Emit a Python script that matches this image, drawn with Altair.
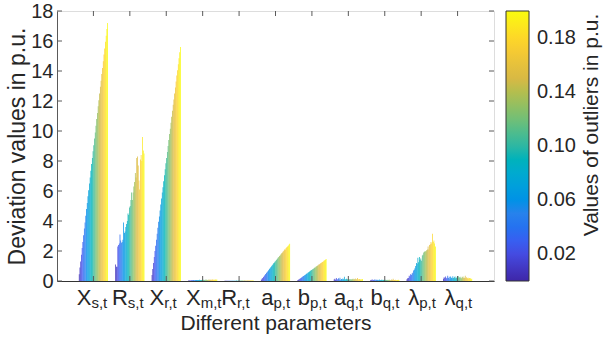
import altair as alt
import pandas as pd

params = ["Xs,t", "Rs,t", "Xr,t", "Xm,t", "Rr,t", "ap,t", "bp,t", "aq,t", "bq,t", "λp,t", "λq,t"]
label_main = ["X", "R", "X", "X", "R", "a", "b", "a", "b", "λ", "λ"]
label_sub = ["s,t", "s,t", "r,t", "m,t", "r,t", "p,t", "p,t", "q,t", "q,t", "p,t", "q,t"]

outliers = [0.005, 0.010, 0.015, 0.020, 0.025, 0.030, 0.035, 0.040, 0.045, 0.050,
            0.055, 0.060, 0.065, 0.070, 0.075, 0.080, 0.085, 0.090, 0.095, 0.100,
            0.105, 0.110, 0.115, 0.120, 0.125, 0.130, 0.135, 0.140, 0.145, 0.150,
            0.155, 0.160, 0.165, 0.170, 0.175, 0.180, 0.185, 0.190, 0.195, 0.200]

xs_t = [0.45, 0.9, 1.3, 1.75, 2.2, 2.6, 3.05, 3.5, 3.9, 4.35, 4.8, 5.2, 5.65, 6.05, 6.5, 6.9, 7.35, 7.8, 8.2, 8.65,
        9.05, 9.5, 9.9, 10.35, 10.8, 11.2, 11.65, 12.05, 12.5, 12.95, 13.35, 13.8, 14.2, 14.65, 15.1, 15.5, 15.95, 16.35, 16.8, 17.2]
rs_t = [1.1, 0.95, 0.95, 2.3, 2.4, 2.5, 3.1, 2.7, 2.55, 2.6, 2.75, 3.9, 3.2, 3.3, 3.6, 3.8, 4.0, 4.5, 4.4, 4.9,
        5.0, 5.4, 5.9, 5.4, 5.9, 6.3, 6.6, 7.2, 6.9, 8.2, 8.3, 7.7, 6.7, 6.1, 8.1, 8.4, 8.0, 9.6, 8.7, 8.5]
xr_t = [0.4, 0.8, 1.2, 1.6, 2.0, 2.35, 2.75, 3.15, 3.55, 3.95, 4.3, 4.7, 5.1, 5.5, 5.9, 6.25, 6.65, 7.05, 7.45, 7.85,
        8.2, 8.6, 9.0, 9.4, 9.8, 10.15, 10.55, 10.95, 11.35, 11.75, 12.1, 12.5, 12.9, 13.3, 13.7, 14.05, 14.45, 14.85, 15.25, 15.6]
xm_t = [0.03, 0.04, 0.05, 0.04, 0.05, 0.06, 0.05, 0.06, 0.05, 0.06, 0.07, 0.06, 0.07, 0.06, 0.07, 0.08, 0.07, 0.06, 0.07, 0.08,
        0.07, 0.08, 0.07, 0.08, 0.09, 0.08, 0.07, 0.08, 0.09, 0.08, 0.09, 0.08, 0.09, 0.1, 0.09, 0.08, 0.09, 0.1, 0.09, 0.1]
rr_t = [0.01, 0.01, 0.02, 0.01, 0.02, 0.01, 0.02, 0.02, 0.01, 0.02, 0.02, 0.02, 0.01, 0.02, 0.02, 0.02, 0.03, 0.02, 0.02, 0.03,
        0.02, 0.03, 0.02, 0.03, 0.03, 0.02, 0.03, 0.03, 0.03, 0.02, 0.03, 0.03, 0.03, 0.04, 0.03, 0.03, 0.04, 0.03, 0.04, 0.04]
ap_t = [0.08, 0.15, 0.2, 0.27, 0.33, 0.4, 0.47, 0.53, 0.6, 0.65, 0.72, 0.8, 0.85, 0.92, 0.98, 1.05, 1.1, 1.18, 1.23, 1.3,
        1.35, 1.42, 1.48, 1.55, 1.6, 1.66, 1.72, 1.78, 1.85, 1.9, 1.97, 2.02, 2.1, 2.1, 2.2, 2.25, 2.3, 2.35, 2.42, 2.48]
bp_t = [0.05, 0.08, 0.12, 0.15, 0.19, 0.22, 0.26, 0.3, 0.33, 0.37, 0.4, 0.44, 0.48, 0.5, 0.55, 0.58, 0.62, 0.66, 0.7, 0.73,
        0.77, 0.8, 0.84, 0.88, 0.9, 0.95, 0.98, 1.02, 1.05, 1.1, 1.12, 1.16, 1.2, 1.24, 1.27, 1.3, 1.35, 1.38, 1.42, 1.46]
aq_t = [0.1, 0.15, 0.08, 0.2, 0.1, 0.12, 0.18, 0.1, 0.22, 0.08, 0.14, 0.1, 0.16, 0.12, 0.28, 0.1, 0.12, 0.15, 0.1, 0.13,
        0.1, 0.12, 0.08, 0.14, 0.1, 0.12, 0.15, 0.1, 0.12, 0.16, 0.1, 0.12, 0.2, 0.1, 0.12, 0.14, 0.1, 0.12, 0.1, 0.13]
bq_t = [0.05, 0.08, 0.04, 0.1, 0.06, 0.07, 0.12, 0.05, 0.09, 0.06, 0.08, 0.05, 0.1, 0.07, 0.06, 0.09, 0.05, 0.08, 0.06, 0.07,
        0.05, 0.08, 0.06, 0.07, 0.09, 0.06, 0.08, 0.05, 0.07, 0.1, 0.06, 0.15, 0.07, 0.06, 0.08, 0.05, 0.07, 0.06, 0.08, 0.06]
lp_t = [0.12, 0.18, 0.2, 0.35, 0.3, 0.45, 0.4, 0.5, 0.55, 0.7, 0.75, 0.85, 1.0, 1.2, 1.15, 1.55, 1.25, 1.6, 1.4, 1.5,
        1.35, 1.7, 1.75, 1.9, 1.95, 2.0, 1.95, 2.05, 2.1, 2.3, 2.1, 2.4, 2.45, 2.6, 2.5, 3.15, 2.6, 2.7, 2.5, 2.3]
lq_t = [0.15, 0.25, 0.2, 0.3, 0.18, 0.22, 0.35, 0.2, 0.28, 0.15, 0.3, 0.22, 0.18, 0.32, 0.2, 0.25, 0.3, 0.18, 0.22, 0.28,
        0.2, 0.32, 0.25, 0.2, 0.28, 0.18, 0.25, 0.3, 0.2, 0.22, 0.35, 0.2, 0.25, 0.18, 0.22, 0.15, 0.2, 0.18, 0.12, 0.15]

series = [xs_t, rs_t, xr_t, xm_t, rr_t, ap_t, bp_t, aq_t, bq_t, lp_t, lq_t]

rows = []
for p, vals in zip(params, series):
    for o, v in zip(outliers, vals):
        rows.append({"param": p, "outlier": o, "value": v})
df = pd.DataFrame(rows)

lab_df = pd.DataFrame({"param": params, "main": label_main, "sub": label_sub})
ytick_vals = [0, 2, 4, 6, 8, 10, 12, 14, 16, 18]
ytick_df = pd.DataFrame({"t": ytick_vals})
cbar_ticks = [0.02, 0.06, 0.10, 0.14, 0.18]

parula_dom = [0.0, 0.025, 0.05, 0.075, 0.1, 0.125, 0.15, 0.175, 0.2]
parula_rng = ["#3e26a8", "#4354f0", "#2782ec", "#0aa5d6", "#2db7a3", "#84bf6c", "#d8b944", "#fcce2e", "#f9fb0e"]

W, H = 437, 270
FONT = "Liberation Sans"
TXT = "#262626"
FRAME = "#5a5a5a"

xscale = alt.Scale(domain=params, paddingInner=0.2, paddingOuter=0.6)
yscale = alt.Scale(domain=[0, 18], nice=False)
cscale = alt.Scale(domain=parula_dom, range=parula_rng)

x_axis = alt.Axis(labels=False, ticks=False, title="Different parameters",
                  titleFontSize=21, titleFont=FONT, titleFontWeight="normal",
                  titleColor=TXT, titlePadding=31, domainColor="#333333")
y_axis = alt.Axis(values=ytick_vals, ticks=False, grid=False, labelFontSize=20,
                  labelFont=FONT, labelColor=TXT, labelPadding=4, labelOverlap=False,
                  labelFlush=False,
                  title="Deviation values in p.u.", titleFontSize=23, titleFont=FONT,
                  titleFontWeight="normal", titleColor=TXT, titlePadding=1,
                  domainColor=FRAME)


def X():
    return alt.X("param:N", sort=params, scale=xscale, axis=x_axis)


bars = alt.Chart(df).mark_bar().encode(
    x=X(),
    xOffset=alt.XOffset("outlier:O", scale=alt.Scale(paddingInner=0, paddingOuter=0)),
    y=alt.Y("value:Q", scale=yscale, axis=y_axis),
    color=alt.Color("outlier:Q", scale=cscale, title=None,
                    legend=alt.Legend(type="gradient", orient="none", legendX=449, legendY=0,
                                      direction="vertical",
                                      gradientLength=H, gradientThickness=23,
                                      gradientStrokeColor="#333333", gradientStrokeWidth=1,
                                      values=cbar_ticks, format=".2f",
                                      labelFontSize=20, labelFont=FONT, labelColor=TXT,
                                      labelOffset=8, padding=0, labelOverlap=False)),
)

left_ticks = alt.Chart(ytick_df).mark_rule(color=FRAME, strokeWidth=1).encode(
    y=alt.Y("t:Q", scale=yscale, axis=y_axis), x=alt.value(0), x2=alt.value(5))
right_ticks = alt.Chart(ytick_df).mark_rule(color=FRAME, strokeWidth=1).encode(
    y=alt.Y("t:Q", scale=yscale, axis=y_axis), x=alt.value(W - 5), x2=alt.value(W))
top_ticks = alt.Chart(lab_df).mark_rule(color=FRAME, strokeWidth=1).encode(
    x=X(), y=alt.value(0), y2=alt.value(5))
bot_ticks = alt.Chart(lab_df).mark_rule(color=FRAME, strokeWidth=1).encode(
    x=X(), y=alt.value(H - 5), y2=alt.value(H))

main_lab = alt.Chart(lab_df).mark_text(align="right", baseline="alphabetic", fontSize=22,
                                       font=FONT, color=TXT, dx=-2).encode(
    x=X(), y=alt.value(H + 24), text="main:N")
sub_lab = alt.Chart(lab_df).mark_text(align="left", baseline="alphabetic", fontSize=15,
                                      font=FONT, color=TXT, dx=-2).encode(
    x=X(), y=alt.value(H + 27), text="sub:N")

cb_title = alt.Chart(lab_df.head(1)).mark_text(angle=270, align="center", baseline="middle",
                                               fontSize=21, font=FONT, color=TXT).encode(
    x=alt.value(535), y=alt.value(114), text=alt.value("Values of outliers in p.u."))

chart = alt.layer(bars, left_ticks, right_ticks, top_ticks, bot_ticks, main_lab, sub_lab, cb_title).properties(
    width=W, height=H,
    autosize=alt.AutoSizeParams(type="none"),
    padding={"left": 57, "top": 11, "right": 109, "bottom": 60},
).configure_view(stroke=FRAME, strokeWidth=1).configure(background="white")

chart.save("out.html", embed_options={"renderer": "svg", "actions": False})
